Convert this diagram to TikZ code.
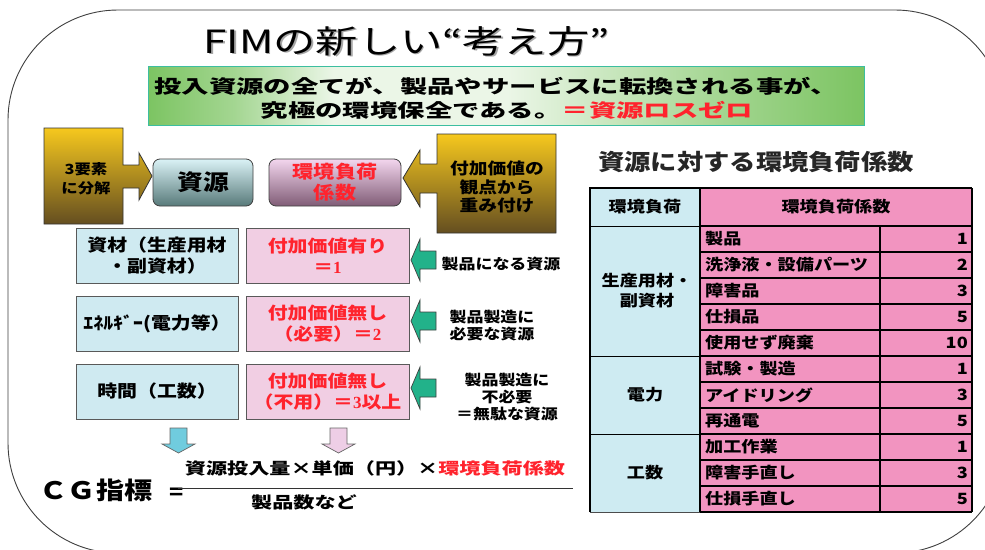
\documentclass[tikz,border=0pt]{standalone}
\usepackage{fontspec}
\setmainfont{Noto Sans CJK JP}
\newfontfamily\jpa{Noto Sans CJK JP}[FakeStretch=1.17]
\newfontfamily\jpb{Noto Sans CJK JP}[FakeStretch=1.32]
\newfontfamily\jpc{Noto Sans CJK JP}[FakeStretch=1.48]
\newfontfamily\serd{Liberation Serif}
\definecolor{goldT}{RGB}{246,200,30}
\definecolor{goldB}{RGB}{100,78,32}
\definecolor{cyT}{RGB}{218,242,246}
\definecolor{cyB}{RGB}{88,122,122}
\definecolor{pkT}{RGB}{243,214,238}
\definecolor{pkB}{RGB}{128,92,118}
\definecolor{cyF}{RGB}{207,234,241}
\definecolor{pkF}{RGB}{241,206,227}
\definecolor{redT}{RGB}{255,35,45}
\definecolor{tpink}{RGB}{242,148,192}
\definecolor{tcyan}{RGB}{206,235,242}
\definecolor{garrow}{RGB}{34,178,138}
\definecolor{bgreen}{RGB}{124,196,98}
\definecolor{bedge}{RGB}{60,190,160}
\definecolor{darr}{RGB}{112,204,222}
\definecolor{parr}{RGB}{238,206,230}
\pgfdeclarehorizontalshading{bannershade}{100bp}{color(0bp)=(bgreen); color(25bp)=(bgreen); color(31bp)=(bgreen!70!white); color(38bp)=(white!85!bgreen); color(50bp)=(white!85!bgreen); color(65bp)=(bgreen!70!white); color(75bp)=(bgreen); color(100bp)=(bgreen)}
\tikzset{
  txt/.style={align=center, inner sep=0pt},
  goldshape/.style={top color=goldT, bottom color=goldB, draw=black!80, line width=0.8pt},
  rowcy/.style={draw=black!65, line width=0.8pt, fill=cyF, minimum width=162pt, minimum height=55pt, inner sep=0pt, align=center},
  rowpk/.style={draw=black!65, line width=0.8pt, fill=pkF, minimum width=163pt, minimum height=55pt, inner sep=0pt, align=center, text=redT},
  garr/.style={fill=garrow, draw=black!75, line width=0.7pt},
  tline/.style={line width=1.4pt, draw=black},
  tabtxt/.style={inner sep=0pt, font=\jpa\bfseries\fontsize{15.5}{19}\selectfont},
}
\begin{document}
\begin{tikzpicture}[x=1pt,y=-1pt]
\useasboundingbox (0,0) rectangle (985,549);
\fill[white] (0,0) rectangle (985,549);
% outer frame
\begin{scope}
\clip (0,0) rectangle (985,549);
\draw[black!75, line width=0.9pt, rounded corners=110pt] (8,10) rectangle (1005,553);
\end{scope}
% title
\node[txt, text=black!35, font=\jpb\fontsize{32}{36}\selectfont] at (408,42.5) {FIMの新しい“考え方”};
\node[txt, font=\jpb\fontsize{32}{36}\selectfont] (title) at (406.5,41) {FIMの新しい“考え方”};
% banner
\path[shading=bannershade, draw=bedge, line width=0.8pt] (148,66) rectangle (864,125);
\node[txt, font=\jpc\bfseries\fontsize{18.5}{22}\selectfont] (b1) at (496,86.5) {投入資源の全てが、製品やサービスに転換される事が、};
\node[txt, font=\jpc\bfseries\fontsize{18.5}{22}\selectfont] (b2) at (507,110.5) {究極の環境保全である。\textcolor{redT}{＝資源ロスゼロ}};
% left gold arrow
\draw[goldshape] (44,128) -- (123,128) -- (123,165) -- (139,165) -- (139,153) -- (152,176) -- (139,200) -- (139,188) -- (123,188) -- (123,224) -- (44,224) -- cycle;
\node[txt, font=\jpa\bfseries\fontsize{14}{19}\selectfont] (g1) at (86,179) {3要素\\に分解};
% right gold arrow
\draw[goldshape] (556,134) -- (437,134) -- (437,164) -- (420,164) -- (420,150) -- (403,178) -- (420,207) -- (420,193) -- (437,193) -- (437,233) -- (556,233) -- cycle;
\node[txt, font=\jpa\bfseries\fontsize{16}{18.5}\selectfont] (g2) at (497,187) {付加価値の\\観点から\\重み付け};
% top boxes
\node[draw=black!75, line width=0.8pt, rounded corners=7pt, top color=cyT, bottom color=cyB, minimum width=100pt, minimum height=47pt, inner sep=0pt, font=\jpa\bfseries\fontsize{22}{26}\selectfont] (src) at (203,182.5) {資源};
\node[draw=black!75, line width=0.8pt, rounded corners=7pt, top color=pkT, bottom color=pkB, minimum width=132pt, minimum height=47pt, inner sep=0pt, align=center, text=redT, font=\jpa\bfseries\fontsize{18}{21}\selectfont] (coef) at (335,182.5) {環境負荷\\係数};
% rows
\node[rowcy, font=\jpa\bfseries\fontsize{17}{21}\selectfont] (r1c) at (157,255.5) {資材（生産用材\\・副資材）};
\node[rowpk, font=\jpa\bfseries\fontsize{17}{21}\selectfont] (r1p) at (327.5,255.5) {付加価値有り\\＝{\serd 1}};
\node[rowcy, font=\jpa\bfseries\fontsize{17}{21}\selectfont] (r2c) at (157,323.5) {ｴﾈﾙｷﾞｰ(電力等）};
\node[rowpk, font=\jpa\bfseries\fontsize{17}{21}\selectfont] (r2p) at (327.5,323.5) {付加価値無し\\（必要）＝{\serd 2}};
\node[rowcy, font=\jpa\bfseries\fontsize{17}{21}\selectfont] (r3c) at (157,391.5) {時間（工数）};
\node[rowpk, font=\jpa\bfseries\fontsize{17}{21}\selectfont] (r3p) at (327.5,391.5) {付加価値無し\\（不用）＝{\serd 3}以上};
% green arrows
\foreach \c in {260,321,388}{
  \draw[garr] (436,\c-9) -- (420,\c-9) -- (420,\c-21) -- (411,\c) -- (420,\c+21) -- (420,\c+9) -- (436,\c+9) -- cycle;
}
\node[txt, font=\jpa\bfseries\fontsize{14.5}{17}\selectfont] (n1) at (501,264) {製品になる資源};
\node[txt, font=\jpa\bfseries\fontsize{14.5}{17}\selectfont] (n2) at (492,326) {製品製造に\\必要な資源};
\node[txt, font=\jpa\bfseries\fontsize{14.5}{17}\selectfont] (n3) at (507,397) {製品製造に\\不必要\\＝無駄な資源};
% down arrows
\draw[fill=darr, draw=black!60, line width=0.7pt] (170,428) -- (187,428) -- (187,444) -- (195,444) -- (178.5,453) -- (162,444) -- (170,444) -- cycle;
\draw[fill=parr, draw=black!60, line width=0.7pt] (330,428) -- (347,428) -- (347,444) -- (355,444) -- (338.5,453) -- (322,444) -- (330,444) -- cycle;
% formula
\node[txt, font=\jpa\bfseries\fontsize{24}{28}\selectfont] (cg) at (96,490) {ＣＧ指標};
\node[txt, font=\jpa\bfseries\fontsize{20}{24}\selectfont] (eq) at (177,494) {=};
\node[txt, font=\jpb\bfseries\fontsize{16}{19}\selectfont] (num) at (375,468) {資源投入量×単価（円）×\textcolor{redT}{環境負荷係数}};
\coordinate (fl) at (178,488);
\coordinate (fr) at (573,488);
\draw[black!80, line width=0.8pt] (fl) -- (fr);
\node[txt, font=\jpb\bfseries\fontsize{16}{19}\selectfont] (den) at (304,502) {製品数など};
% table title
\node[txt, font=\jpa\bfseries\fontsize{22.5}{26}\selectfont, text=black!85] (tt) at (756,162) {資源に対する環境負荷係数};
% table
\fill[tcyan] (590,188) rectangle (700,512);
\fill[tpink] (700,188) rectangle (972,512);
\foreach \i in {0,...,10}{
  \draw[tline] (700,226+26*\i) -- (972,226+26*\i);
}
\draw[tline] (700,512) -- (972,512);
\draw[line width=1pt] (590,226) -- (700,226);
\draw[line width=1pt] (590,356) -- (700,356);
\draw[line width=1pt] (590,434) -- (700,434);
\draw[line width=1pt, black!70] (590,512) -- (700,512);
\draw[line width=1.2pt] (590,512) -- (590,188) -- (972,188);
\draw[line width=1.6pt] (972,188) -- (972,512);
\draw[tline] (700,188) -- (700,512);
\draw[tline] (880,226) -- (880,512);
\node[tabtxt] (h1) at (645,207) {環境負荷};
\node[tabtxt] (h2) at (836,207) {環境負荷係数};
\node[tabtxt, align=center, font=\jpa\bfseries\fontsize{15.5}{20}\selectfont] (gA) at (647,291) {生産用材・\\副資材};
\node[tabtxt] (gB) at (645,395) {電力};
\node[tabtxt] (gC) at (645,473) {工数};
\foreach \t/\v [count=\k from 0] in {製品/1,洗浄液・設備パーツ/2,障害品/3,仕損品/5,使用せず廃棄/10,試験・製造/1,アイドリング/3,再通電/5,加工作業/1,障害手直し/3,仕損手直し/5}{
  \node[tabtxt, anchor=west] (it\k) at (705,239+26*\k) {\t};
  \node[tabtxt, anchor=east] (va\k) at (968,239+26*\k) {\v};
}
\end{tikzpicture}
\end{document}
